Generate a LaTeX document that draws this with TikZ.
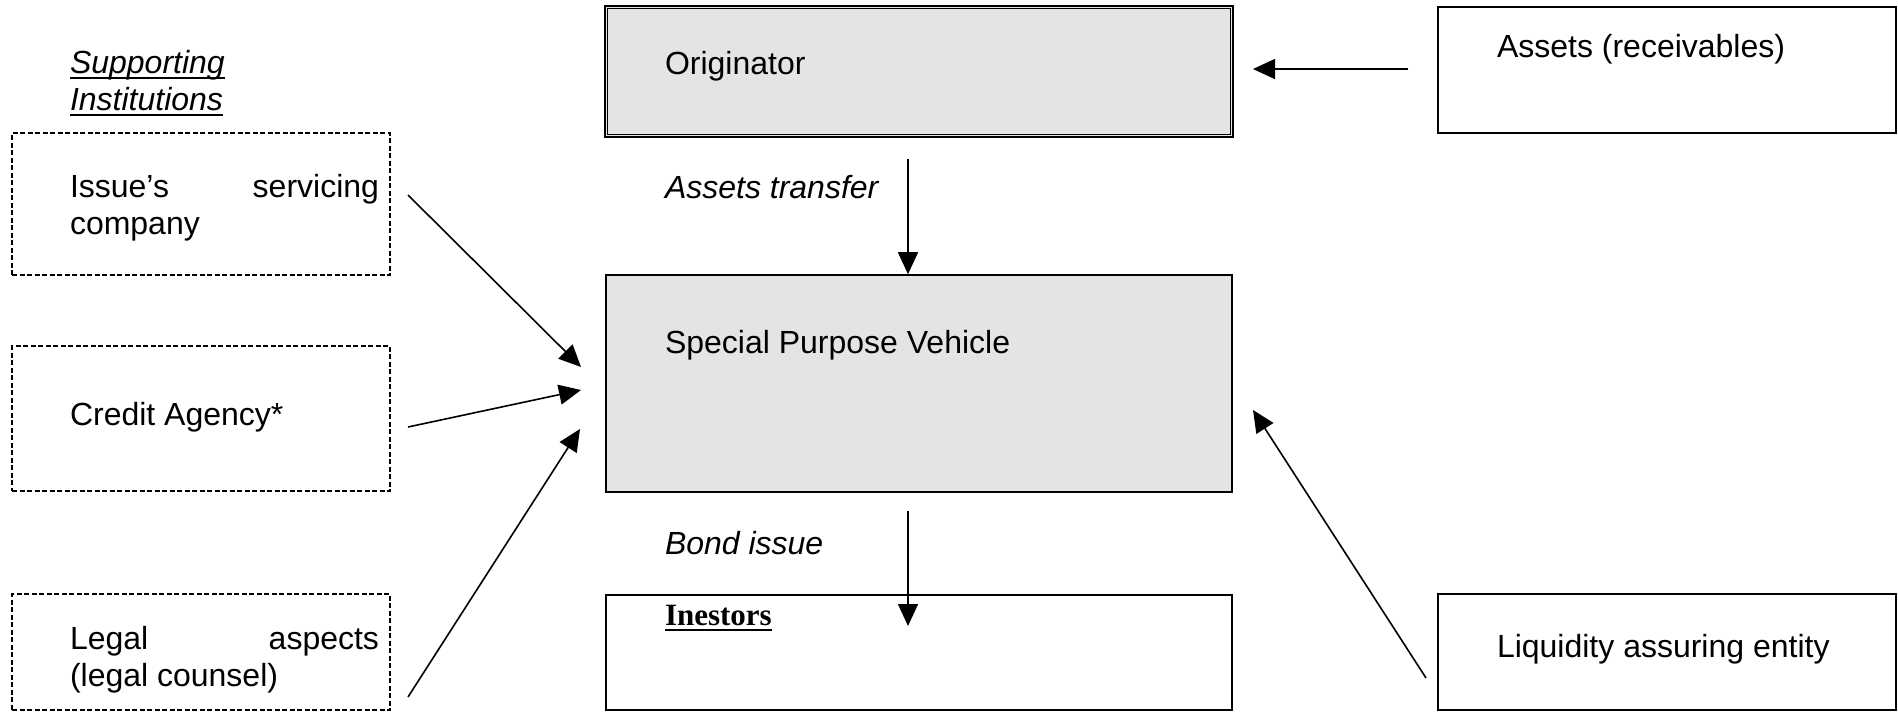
\documentclass[tikz,border=0pt]{standalone}
\usepackage{fontspec}
\setmainfont{Liberation Sans}
\newfontfamily\timesf{Liberation Serif}
\usetikzlibrary{arrows.meta}
\definecolor{boxgray}{HTML}{E4E4E4}
\newsavebox\myulbox
\newcommand{\myul}[2][1.8pt]{\sbox\myulbox{#2}\rlap{\rule[-6pt]{\wd\myulbox}{#1}}\usebox\myulbox}
\tikzset{
  solidbox/.style={draw=black, line width=2pt, rectangle, inner sep=0pt},
  dashbox/.style={draw=black, line width=1.5pt, dash pattern=on 5pt off 2.5pt, rectangle, inner sep=0pt},
  lbl/.style={inner sep=0pt, outer sep=0pt, font=\fontsize{32}{37}\selectfont},
  flow/.style={line width=1.6pt, -{Triangle[length=22pt,width=20pt]}},
}
\begin{document}
\begin{tikzpicture}[x=1pt,y=-1pt]
\useasboundingbox (0,0) rectangle (1898,712);
% boxes
\node[solidbox, fill=boxgray, line width=2.4pt, minimum width=628pt, minimum height=131pt] (orig) at (919,71.5) {};
\draw[line width=1.1pt] ([xshift=4pt,yshift=-4pt]orig.north west) rectangle ([xshift=-4pt,yshift=4pt]orig.south east);
\node[solidbox, minimum width=458pt, minimum height=126pt] (assets) at (1667,70) {};
\node[solidbox, fill=boxgray, line width=1.6pt, minimum width=626pt, minimum height=217pt] (spv) at (919,383.5) {};
\node[solidbox, minimum width=626pt, minimum height=115pt] (inv) at (919,652.5) {};
\node[solidbox, minimum width=458pt, minimum height=116pt] (liq) at (1667,652) {};
\node[dashbox, minimum width=378pt, minimum height=142pt] (issue) at (201,204) {};
\node[dashbox, minimum width=378pt, minimum height=145pt] (credit) at (201,418.5) {};
\node[dashbox, minimum width=378pt, minimum height=116pt] (legal) at (201,652) {};
% texts
\node[lbl, anchor=base west] (sup1) at (70,73) {\itshape\myul{Supporting}};
\node[lbl, anchor=base west] (sup2) at (70,110) {\itshape\myul{Institutions}};
\node[lbl, anchor=base west] (t-issue1) at (70,197) {Issue’s};
\node[lbl, anchor=base east] (t-issue2) at (379,197) {servicing};
\node[lbl, anchor=base west] (t-issue3) at (70,234) {company};
\node[lbl, anchor=base west] (t-credit) at (70,425) {Credit Agency*};
\node[lbl, anchor=base west] (t-legal1) at (70,649) {Legal};
\node[lbl, anchor=base east] (t-legal2) at (379,649) {aspects};
\node[lbl, anchor=base west] (t-legal3) at (70,686) {(legal counsel)};
\node[lbl, anchor=base west] (t-orig) at (665,74) {Originator};
\node[lbl, anchor=base west] (t-assets) at (1497,57) {Assets (receivables)};
\node[lbl, anchor=base west] (t-transfer) at (665,198) {\itshape Assets transfer};
\node[lbl, anchor=base west] (t-spv) at (665,353) {Special Purpose Vehicle};
\node[lbl, anchor=base west] (t-bond) at (665,554) {\itshape Bond issue};
\node[lbl, anchor=base west] (t-inv) at (665,625) {\timesf\bfseries\fontsize{31}{37}\selectfont\myul[2.4pt]{Inestors}};
\node[lbl, anchor=base west] (t-liq) at (1497,657) {Liquidity assuring entity};
% connector ends
\coordinate (a-from) at (1408,69);
\coordinate (a-to) at (1253,69);
\coordinate (t-from) at (908,159);
\coordinate (b-from) at (908,511);
\coordinate (b-to) at (908,626);
\coordinate (i-from) at (408,195);
\coordinate (i-to) at (581,367);
\coordinate (c-from) at (408,427);
\coordinate (c-to) at (581,390);
\coordinate (l-from) at (408,697);
\coordinate (l-to) at (580,429);
\coordinate (q-from) at (1426,678);
\coordinate (q-to) at (1253,410);
% connectors
\draw[flow] (a-from) -- (a-to);
\draw[flow] (t-from) -- (spv.north -| t-from);
\draw[flow] (b-from) -- (b-to);
\draw[flow] (i-from) -- (i-to);
\draw[flow] (c-from) -- (c-to);
\draw[flow] (l-from) -- (l-to);
\draw[flow] (q-from) -- (q-to);
\end{tikzpicture}
\end{document}
